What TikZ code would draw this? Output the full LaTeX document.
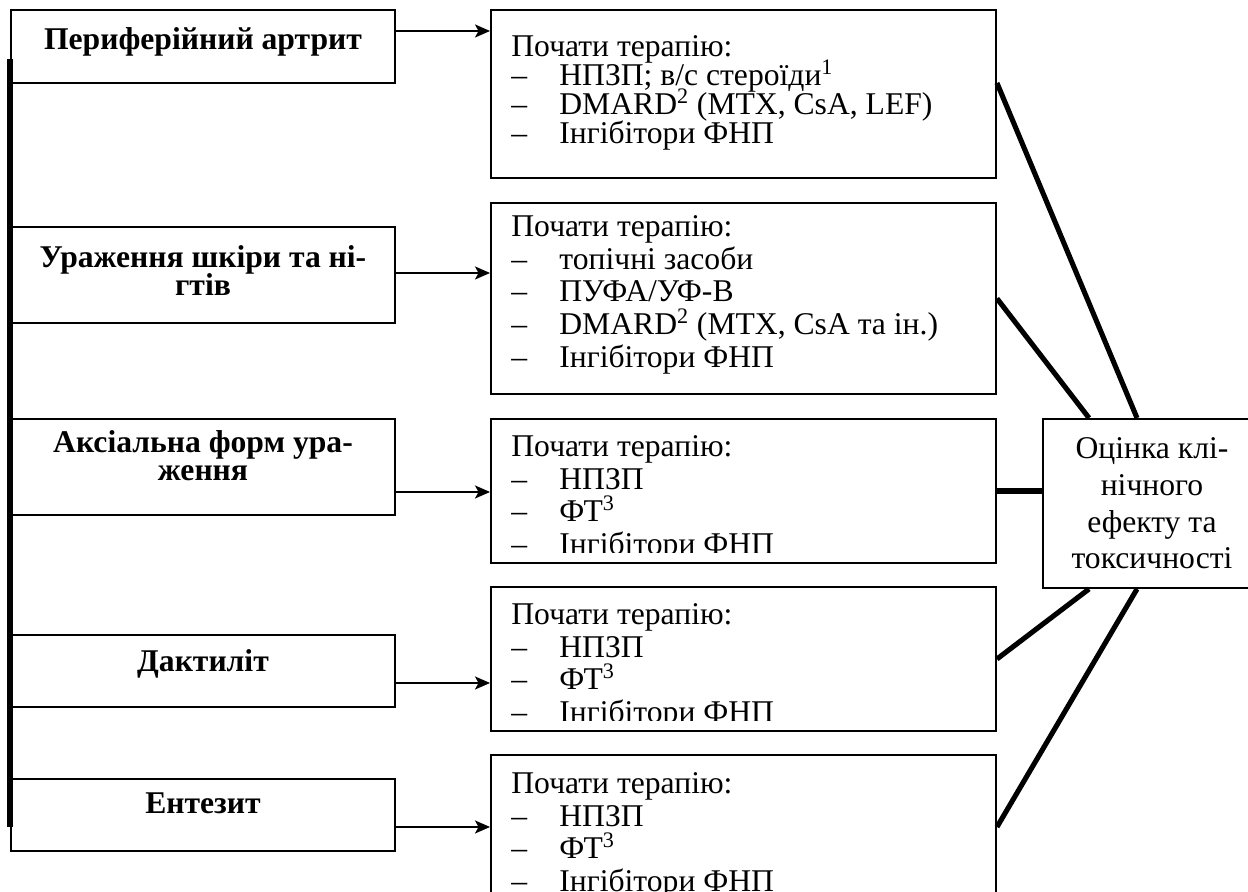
\documentclass[tikz,border=0pt]{standalone}
\usepackage{fontspec}
\setmainfont{Liberation Serif}
\usepackage{tikz}
\usetikzlibrary{arrows.meta, positioning}
\newcommand{\tdash}{\makebox[0.96cm][l]{--}}

\begin{document}
\lineskiplimit=-20pt
\begin{tikzpicture}[
  every node/.style={font=\fontsize{18}{18}\selectfont},
  lbox/.style={draw, line width=1.1pt, minimum width=7.68cm, inner sep=0pt},
  rbox/.style={draw, line width=1.1pt, minimum width=10.1cm, minimum height=2.88cm, inner sep=0pt},
  ltext/.style={font=\bfseries\fontsize{18}{16}\selectfont, align=center, inner sep=0pt},
  tlist/.style={font=\fontsize{18}{18.6}\selectfont, align=left, inner sep=0pt},
  arrow/.style={-{Stealth[length=3mm, width=2.6mm, inset=0.7mm]}, line width=1.1pt},
  link/.style={line width=2.9pt}
]
  \useasboundingbox (0,0) rectangle (24.96,17.84);

  % forms of the disease
  \node[lbox, minimum height=1.46cm] (periph) at (4.06,16.91) {};
  \node[lbox, minimum height=1.92cm] (skin) at (4.06,12.34) {};
  \node[lbox, minimum height=1.92cm] (axial) at (4.06,8.50) {};
  \node[lbox, minimum height=1.44cm] (dact) at (4.06,4.42) {};
  \node[lbox, minimum height=1.44cm] (enth) at (4.06,1.54) {};

  \node[ltext, below=0.36cm of periph.north] (periphtxt) {Периферійний артрит};
  \node[ltext, below=0.38cm of skin.north] (skintxt) {Ураження шкіри та ні-\\гтів};
  \node[ltext, below=0.24cm of axial.north] (axialtxt) {Аксіальна форм ура-\\ження};
  \node[ltext, below=0.30cm of dact.north] (dacttxt) {Дактиліт};
  \node[ltext, below=0.28cm of enth.north] (enthtxt) {Ентезит};

  \coordinate (bartop) at (periph.west |- 0,16.66);
  \coordinate (barbot) at (enth.west |- 0,1.30);
  \draw[link] (bartop) -- (barbot);

  % therapy boxes
  \node[rbox, minimum height=3.36cm] (ther1) at (14.87,15.96) {};
  \node[rbox, minimum height=3.82cm] (ther2) at (14.87,11.87) {};
  \node[rbox] (ther3) at (14.87,8.02) {};
  \node[rbox] (ther4) at (14.87,4.66) {};
  \node[rbox] (ther5) at (14.87,1.30) {};

  \node[tlist, font=\fontsize{18}{16.6}\selectfont,
        below right=0.52cm and 0.42cm of ther1.north west] (ther1txt)
    {Почати терапію:\\ \tdash НПЗП; в/с стероїди\textsuperscript{1}\\ \tdash DMARD\textsuperscript{2} (MTX, CsA, LEF)\\ \tdash Інгібітори ФНП};
  \node[tlist, below right=0.26cm and 0.42cm of ther2.north west] (ther2txt)
    {Почати терапію:\\ \tdash топічні засоби\\ \tdash ПУФА/УФ-В\\ \tdash DMARD\textsuperscript{2} (MTX, CsA та ін.)\\ \tdash Інгібітори ФНП};
  \begin{scope}
    \clip (ther3.north west) rectangle ([yshift=2.2mm]ther3.south east);
    \node[tlist, below right=0.34cm and 0.42cm of ther3.north west] (ther3txt)
      {Почати терапію:\\ \tdash НПЗП\\ \tdash ФТ\textsuperscript{3}\\ \tdash Інгібітори ФНП};
  \end{scope}
  \begin{scope}
    \clip (ther4.north west) rectangle ([yshift=2.2mm]ther4.south east);
    \node[tlist, below right=0.34cm and 0.42cm of ther4.north west] (ther4txt)
      {Почати терапію:\\ \tdash НПЗП\\ \tdash ФТ\textsuperscript{3}\\ \tdash Інгібітори ФНП};
  \end{scope}
  \node[tlist, below right=0.36cm and 0.42cm of ther5.north west] (ther5txt)
    {Почати терапію:\\ \tdash НПЗП\\ \tdash ФТ\textsuperscript{3}\\ \tdash Інгібітори ФНП};

  \node[draw, line width=1.1pt, minimum width=4.36cm, minimum height=3.38cm, inner sep=0pt,
        align=center, font=\fontsize{18}{20.8}\selectfont] (eval) at (23.04,7.77)
    {Оцінка клі-\\нічного\\ефекту та\\токсичності};

  % arrows to the therapy boxes
  \draw[arrow] (periph.east |- 0,17.22) -- (ther1.west |- 0,17.22);
  \draw[arrow] (skin.east |- 0,12.38) -- (ther2.west |- 0,12.38);
  \draw[arrow] (axial.east |- 0,8.00) -- (ther3.west |- 0,8.00);
  \draw[arrow] (dact.east |- 0,4.18) -- (ther4.west |- 0,4.18);
  \draw[arrow] (enth.east |- 0,1.30) -- (ther5.west |- 0,1.30);

  % links to the evaluation box
  \draw[link] ([yshift=2.2mm]ther1.east) -- ([xshift=19mm]eval.north west);
  \draw[link] (ther2.east) -- ([xshift=9.4mm]eval.north west);
  \draw[link] (ther3.east) -- (ther3.east -| eval.west);
  \draw[link] (ther4.east) -- ([xshift=9.4mm]eval.south west);
  \draw[link] (ther5.east) -- ([xshift=19mm]eval.south west);

\end{tikzpicture}
\end{document}
